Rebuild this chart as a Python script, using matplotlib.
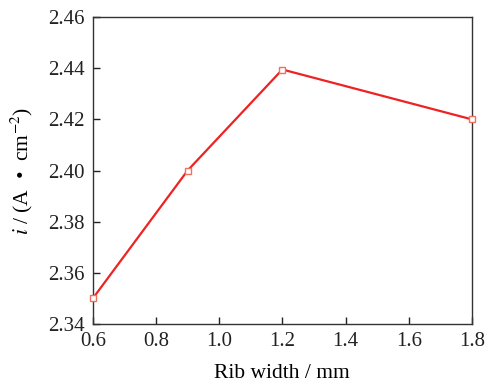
import matplotlib
matplotlib.use('Agg')
import matplotlib.pyplot as plt

# data
rib_width = [0.6, 0.9, 1.2, 1.8]
current_density = [2.350, 2.400, 2.4395, 2.420]
xticks = [0.6, 0.8, 1.0, 1.2, 1.4, 1.6, 1.8]
yticks = [2.34, 2.36, 2.38, 2.40, 2.42, 2.44, 2.46]

plt.rcParams['font.family'] = ['Liberation Serif', 'DejaVu Serif']
plt.rcParams['mathtext.fontset'] = 'stix'

fig = plt.figure(figsize=(4.86, 3.88), dpi=100)
ax = fig.add_axes([0.191, 0.165, 0.780, 0.791])

ax.plot(rib_width, current_density, color='#ee2222', lw=1.6,
        marker='s', ms=5, mfc='white', mec='#f07060', mew=1.0, clip_on=False, zorder=3)

ax.set_xlim(0.6, 1.8)
ax.set_ylim(2.34, 2.46)
ax.set_xticks(xticks)
ax.set_xticklabels([f'{v:.1f}' for v in xticks])
ax.set_yticks(yticks)
ax.set_yticklabels([f'{v:.2f}' for v in yticks])
ax.tick_params(direction='in', length=5, width=1, labelsize=15, pad=6, colors='#222222')
for s in ax.spines.values():
    s.set_linewidth(1.0)
    s.set_color('#333333')

ax.set_xlabel('Rib width / mm', fontsize=15.5, labelpad=9)
ax.set_ylabel(r'$i$ / (A  •  cm$^{-2}$)', fontsize=15.5, labelpad=9)

fig.savefig('out.png', dpi=100)
